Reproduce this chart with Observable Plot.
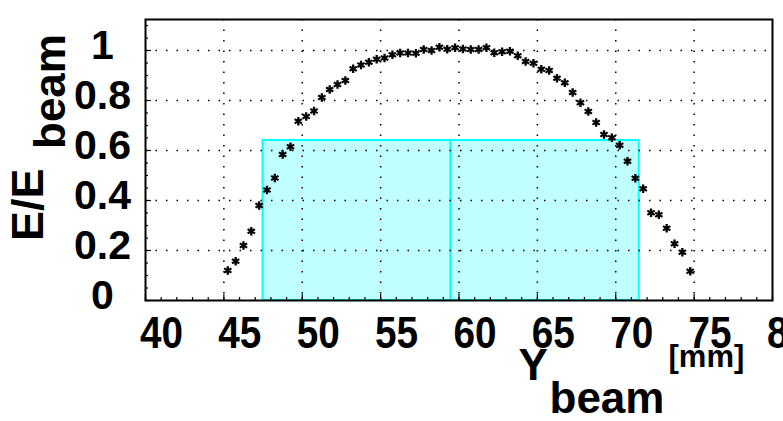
<!DOCTYPE html>
<html>
<head>
<meta charset="utf-8">
<script src="https://cdn.jsdelivr.net/npm/d3@7"></script>
<script src="https://cdn.jsdelivr.net/npm/@observablehq/plot@0.6"></script>
<style>
  html, body { margin: 0; padding: 0; background: #fff; overflow: hidden; }
</style>
</head>
<body>
<div id="chart"></div>
<script>
// Beam scan: relative energy response vs. beam position
const yBeam = [
  45.25, 45.75, 46.25, 46.75, 47.25, 47.75, 48.25, 48.75, 49.25, 49.75,
  50.25, 50.75, 51.25, 51.75, 52.25, 52.75, 53.25, 53.75, 54.25, 54.75,
  55.25, 55.75, 56.25, 56.75, 57.25, 57.75, 58.25, 58.75, 59.25, 59.75,
  60.25, 60.75, 61.25, 61.75, 62.25, 62.75, 63.25, 63.75, 64.25, 64.75,
  65.25, 65.75, 66.25, 66.75, 67.25, 67.75, 68.25, 68.75, 69.25, 69.75,
  70.25, 70.75, 71.25, 71.75, 72.25, 72.75, 73.25, 73.75, 74.25, 74.75
];
const energyRatio = [
  0.120, 0.157, 0.220, 0.277, 0.380, 0.442, 0.490, 0.584, 0.615, 0.717,
  0.736, 0.758, 0.812, 0.844, 0.864, 0.880, 0.927, 0.942, 0.953, 0.965,
  0.970, 0.983, 0.990, 0.990, 0.989, 1.004, 1.000, 1.013, 1.005, 1.011,
  1.006, 1.004, 1.004, 1.011, 0.991, 0.995, 0.997, 0.979, 0.956, 0.949,
  0.925, 0.920, 0.889, 0.871, 0.832, 0.791, 0.756, 0.712, 0.664, 0.651,
  0.621, 0.557, 0.489, 0.447, 0.351, 0.343, 0.289, 0.227, 0.193, 0.117
];

// Two adjacent acceptance regions
const regionStart = [47.5, 59.5];
const regionEnd = [59.5, 71.5];
const regionTop = [0.64, 0.64];

// Axis ticks and labels
const xTicks = [40, 45, 50, 55, 60, 65, 70, 75, 80];
const xMinorTicks = [40, 41, 42, 43, 44, 45, 46, 47, 48, 49, 50, 51, 52, 53, 54, 55, 56, 57, 58, 59,
  60, 61, 62, 63, 64, 65, 66, 67, 68, 69, 70, 71, 72, 73, 74, 75, 76, 77, 78, 79, 80];
const xTickLabels = ["40", "45", "50", "55", "60", "65", "70", "75", "80"];
const yTicks = [0, 0.2, 0.4, 0.6, 0.8, 1];
const yMinorTicks = [0, 0.05, 0.1, 0.15, 0.2, 0.25, 0.3, 0.35, 0.4, 0.45, 0.5, 0.55, 0.6,
  0.65, 0.7, 0.75, 0.8, 0.85, 0.9, 0.95, 1, 1.05, 1.1];
const yTickLabels = ["0", "0.2", "0.4", "0.6", "0.8", "1"];

// Axis titles (main part and subscript)
const xTitleParts = ["Y", "beam", "[mm]"];
const yTitleParts = ["E/E", "beam"];

const points = yBeam.map((x, i) => ({x, e: energyRatio[i]}));
const regions = regionStart.map((x1, i) => ({x1, x2: regionEnd[i], top: regionTop[i]}));

const font = "'Liberation Sans', Arial, Helvetica, sans-serif";
const dotted = {stroke: "black", strokeOpacity: 1, strokeWidth: 1.5, strokeDasharray: "1.5,9"};

const chart = Plot.plot({
  width: 783,
  height: 421,
  marginLeft: 145,
  marginRight: 11,
  marginTop: 19,
  marginBottom: 121,
  style: {fontFamily: font, fontWeight: "bold", background: "white", color: "black", overflow: "visible"},
  x: {domain: [40, 80]},
  y: {domain: [0, 1.124]},
  marks: [
    Plot.rectY(regions, {x1: "x1", x2: "x2", y1: 0, y2: "top", fill: "#c0ffff", stroke: "#00ffff", strokeWidth: 2}),
    Plot.gridX({ticks: xTicks.slice(1, -1), ...dotted}),
    Plot.gridY({ticks: yTicks.slice(1), ...dotted}),
    Plot.dot(points, {x: "x", y: "e", symbol: "asterisk", r: 4, stroke: "black", strokeWidth: 2.3}),

    // inward ticks
    Plot.axisX({ticks: xMinorTicks, tickSize: -3, text: null, label: null, strokeWidth: 1.2}),
    Plot.axisX({ticks: xTicks, tickSize: -6, text: null, label: null, strokeWidth: 1.2}),
    Plot.axisY({ticks: yMinorTicks, tickSize: -3, text: null, label: null, strokeWidth: 1.2}),
    Plot.axisY({ticks: yTicks, tickSize: -6, text: null, label: null, strokeWidth: 1.2}),

    // tick labels (y labels are centred in their column)
    Plot.axisX({ticks: xTicks, tickSize: 0, tickPadding: 16, dx: 16, fontSize: 44, label: null,
      tickFormat: (d) => xTickLabels[xTicks.indexOf(d)]}),
    Plot.text(yTicks, {y: (d) => d, frameAnchor: "left", text: (d) => yTickLabels[yTicks.indexOf(d)],
      textAnchor: "middle", lineAnchor: "middle", dx: -43, dy: -5, fontSize: 41, fill: "black"}),

    Plot.frame({stroke: "black", strokeWidth: 2}),

    // y title: E/E with subscript "beam"
    Plot.text([yTitleParts[0]], {frameAnchor: "left", text: (d) => d, rotate: -90, textAnchor: "start",
      lineAnchor: "bottom", dx: -103, dy: 81, fontSize: 45, fill: "black"}),
    Plot.text([yTitleParts[1]], {frameAnchor: "left", text: (d) => d, rotate: -90, textAnchor: "start",
      lineAnchor: "bottom", dx: -81, dy: -11, fontSize: 44, fill: "black"}),

    // x title: Y with subscript "beam", unit raised
    Plot.text([xTitleParts[0]], {frameAnchor: "bottom-right", text: (d) => d, textAnchor: "start",
      lineAnchor: "bottom", dx: -254, dy: 79, fontSize: 44, fill: "black"}),
    Plot.text([xTitleParts[1]], {frameAnchor: "bottom-right", text: (d) => d, textAnchor: "start",
      lineAnchor: "bottom", dx: -223, dy: 112, fontSize: 44, fill: "black"}),
    Plot.text([xTitleParts[2]], {frameAnchor: "bottom-right", text: (d) => d, textAnchor: "start",
      lineAnchor: "bottom", dx: -104, dy: 66, fontSize: 31, fill: "black"})
  ]
});

// x tick labels are set in a slightly condensed face
d3.select(chart).selectAll('g[aria-label="x-axis tick label"] text').each(function () {
  const el = d3.select(this);
  const t = el.attr("transform");
  if (t) {
    el.attr("transform", t + " scale(0.88,1)");
  } else {
    const x = +el.attr("x") || 0, y = +el.attr("y") || 0;
    el.attr("x", null).attr("y", null).attr("transform", `translate(${x},${y}) scale(0.88,1)`);
  }
});

document.getElementById("chart").appendChild(chart);
</script>
</body>
</html>
